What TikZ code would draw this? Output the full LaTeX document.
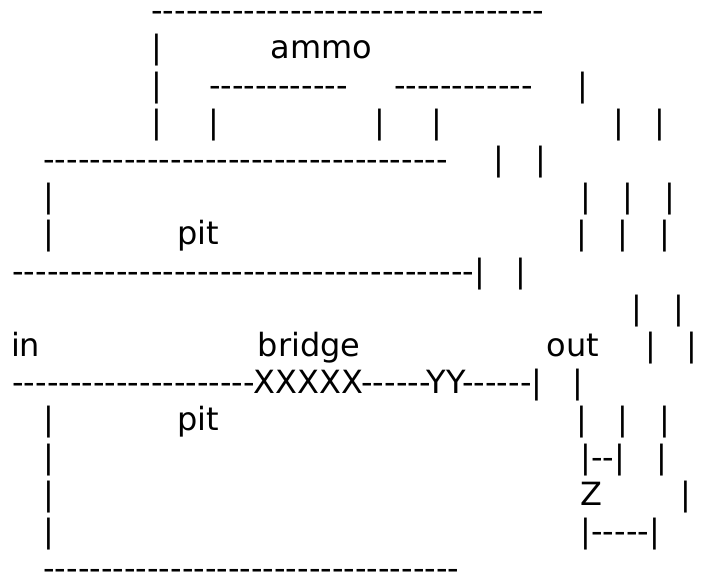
\documentclass[tikz,border=0pt]{standalone}
\usepackage{fontspec}
% the mono slot keeps hyphens as typed (no TeX dash ligatures)
\setmonofont{DejaVu Sans}
\tikzset{
  txt/.style={inner sep=0pt, outer sep=0pt, anchor=base west,
              font=\ttfamily\fontsize{32}{38}\selectfont},
  bar/.style={txt, anchor=base}
}
\begin{document}
\begin{tikzpicture}[x=1pt, y=-1pt]
\useasboundingbox (0,0) rectangle (712,573);
% row 1
\node[txt] (r1a) at (151.4,21.7) {----------------------------------};
% row 2
\node[bar] (r2a) at (156.7,58.9) {|};
\node[txt] (ammo) at (270.8,58.9) {ammo};
% row 3
\node[bar] (r3a) at (156.7,96.1) {|};
\node[txt] (r3b) at (209.1,96.1) {------------};
\node[txt] (r3c) at (394.1,96.1) {------------};
\node[bar] (r3d) at (583.3,96.1) {|};
% row 4
\node[bar] (r4a) at (157.3,133.3) {|};
\node[bar] (r4b) at (214,133.3) {|};
\node[bar] (r4c) at (380,133.3) {|};
\node[bar] (r4d) at (437.3,133.3) {|};
\node[bar] (r4e) at (618.7,133.3) {|};
\node[bar] (r4f) at (660,133.3) {|};
% row 5
\node[txt] (r5a) at (43.4,170.5) {-----------------------------------};
\node[bar] (r5b) at (499,170.5) {|};
\node[bar] (r5c) at (540.7,170.5) {|};
% row 6
\node[bar] (r6a) at (49,207.7) {|};
\node[bar] (r6b) at (586.3,207.7) {|};
\node[bar] (r6c) at (628,207.7) {|};
\node[bar] (r6d) at (670,207.7) {|};
% row 7
\node[bar] (r7a) at (49,244.9) {|};
\node[txt] (pitup) at (177.1,244.9) {pit};
\node[bar] (r7b) at (581.7,244.9) {|};
\node[bar] (r7c) at (623.3,244.9) {|};
\node[bar] (r7d) at (665,244.9) {|};
% row 8
\node[txt] (r8a) at (12.4,282.1) {----------------------------------------|};
\node[bar] (r8b) at (521.3,282.1) {|};
% row 9
\node[bar] (r9a) at (637,319.3) {|};
\node[bar] (r9b) at (679.3,319.3) {|};
% row 10
\node[txt] (in) at (11,356.5) {in};
\node[txt] (bridge) at (257.8,356.5) {bridge};
\node[txt] (out) at (546.5,356.5) {out};
\node[bar] (r10a) at (651,356.5) {|};
\node[bar] (r10b) at (692.3,356.5) {|};
% row 11
\node[txt] (r11a) at (12.4,393.7) {---------------------XXXXX------YY------|};
\node[bar] (r11b) at (577.7,393.7) {|};
% row 12
\node[bar] (r12a) at (49,430.9) {|};
\node[txt] (pitdown) at (177.1,430.9) {pit};
\node[bar] (r12b) at (581.7,430.9) {|};
\node[bar] (r12c) at (623.3,430.9) {|};
\node[bar] (r12d) at (665,430.9) {|};
% row 13
\node[bar] (r13a) at (49,468.1) {|};
\node[txt] (r13b) at (580.6,468.1) {|--|};
\node[bar] (r13c) at (661.7,468.1) {|};
% row 14
\node[bar] (r14a) at (49,505.3) {|};
\node[txt] (zed) at (580.3,505.3) {Z};
\node[bar] (r14b) at (685.5,505.3) {|};
% row 15
\node[bar] (r15a) at (49,542.5) {|};
\node[txt] (r15b) at (580.6,542.5) {|-----|};
% row 16
\node[txt] (r16a) at (43.4,579.7) {------------------------------------};
\end{tikzpicture}
\end{document}
